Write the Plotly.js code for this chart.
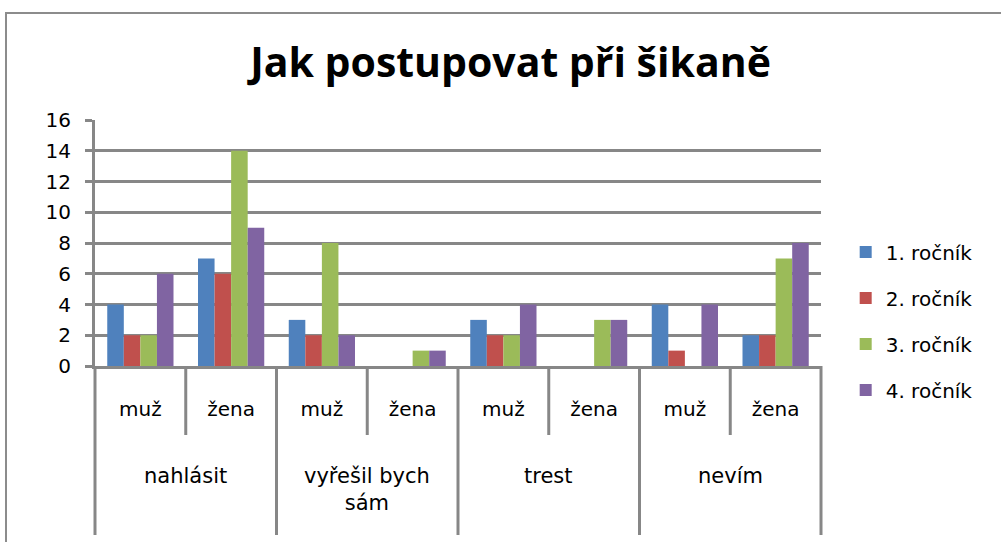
<!DOCTYPE html>
<html>
<head>
<meta charset="utf-8">
<script src="https://cdn.plot.ly/plotly-3.0.1.min.js"></script>
<style>
body{margin:0;padding:0;background:#fff;}
#wrap{position:relative;width:1001px;height:542px;overflow:hidden;}
#chart{width:1001px;height:542px;}
#frame{position:absolute;left:5px;top:12px;width:1100px;height:700px;border:2px solid #8c8c8c;pointer-events:none;}
</style>
</head>
<body>
<div id="wrap"><div id="chart"></div><div id="frame"></div></div>
<script>
const groups = ["nahlásit","nahlásit","vyřešil bych<br>sám","vyřešil bych<br>sám","trest","trest","nevím","nevím"];
const subs = ["muž","žena","muž","žena","muž","žena","muž","žena"];
const seriesNames = ["1. ročník","2. ročník","3. ročník","4. ročník"];
const rocnik1 = [4,7,3,0,3,0,4,2];
const rocnik2 = [2,6,2,0,2,0,1,2];
const rocnik3 = [2,14,8,1,2,3,0,7];
const rocnik4 = [6,9,2,1,4,3,4,8];
const yTicks = [0,2,4,6,8,10,12,14,16];
const colors = ["#4F81BD","#C0504D","#9BBB59","#8064A2"];
const values = [rocnik1,rocnik2,rocnik3,rocnik4];

const font = "DejaVu Sans, sans-serif";
const gray = "#878787";
const idx = subs.map((_, i) => i);
const n = subs.length;

const traces = values.map((v,i)=>({
  type:"bar",
  name:seriesNames[i],
  x:idx,
  y:v,
  marker:{color:colors[i]},
  legendgroup:"g"+i,
  hoverinfo:"none"
}));

// dividers: short between subcategories, long at group boundaries
const shapes = [];
for (let b = 0; b <= n; b++) {
  const isGroupEdge = b === 0 || b === n || groups[b] !== groups[b-1];
  shapes.push({type:"line", xref:"x domain", yref:"paper", ysizemode:"pixel", yanchor:0,
    x0:b/n, x1:b/n, y0:0, y1:isGroupEdge ? -169 : -69,
    line:{color:gray, width:3}});
}
// group labels
const annotations = [];
const seen = [];
groups.forEach((g,i)=>{
  if (seen.includes(g)) return;
  seen.push(g);
  const members = idx.filter(j => groups[j] === g);
  const cx = members.reduce((a,b)=>a+b,0)/members.length;
  annotations.push({xref:"x", yref:"paper", x:cx, y:0, yanchor:"top", xanchor:"center",
    yshift:-97, showarrow:false, text:g, borderpad:0,
    font:{family:font, size:21, color:"#000"}});
});

const layout = {
  width:1001, height:542,
  margin:{l:95,r:180,t:120,b:176},
  paper_bgcolor:"rgba(0,0,0,0)",
  plot_bgcolor:"rgba(0,0,0,0)",
  barmode:"group",
  bargap:0.27,
  bargroupgap:0,
  title:{text:"<b>Jak postupovat při šikaně</b>", x:0.51, xref:"container", xanchor:"center", y:0.885, yref:"container", yanchor:"middle",
    font:{family:"Open Sans, sans-serif",size:41,color:"#000"}},
  xaxis:{type:"linear", range:[-0.5, n-0.5], tickvals:idx, ticktext:subs, showline:true, linecolor:gray, linewidth:3,
    ticks:"outside", ticklen:23, tickwidth:1, tickcolor:"rgba(0,0,0,0)",
    tickfont:{family:font,size:20,color:"#000"}, showgrid:false, zeroline:false, fixedrange:true},
  yaxis:{range:[0,16], tickvals:yTicks, ticktext:yTicks.map(String), showgrid:true, gridcolor:gray, gridwidth:3,
    showline:true, linecolor:gray, linewidth:3, ticks:"outside", ticklen:7, tickwidth:3, tickcolor:gray,
    ticklabelstandoff:10,
    tickfont:{family:font,size:20,color:"#000"}, zeroline:false},
  shapes:shapes,
  annotations:annotations,
  showlegend:true,
  legend:{x:1.034, xanchor:"left", y:0.183, yanchor:"middle", font:{family:font,size:20,color:"#000"}, tracegroupgap:17, itemwidth:30}
};
Plotly.newPlot("chart", traces, layout, {staticPlot:true});
</script>
</body>
</html>
